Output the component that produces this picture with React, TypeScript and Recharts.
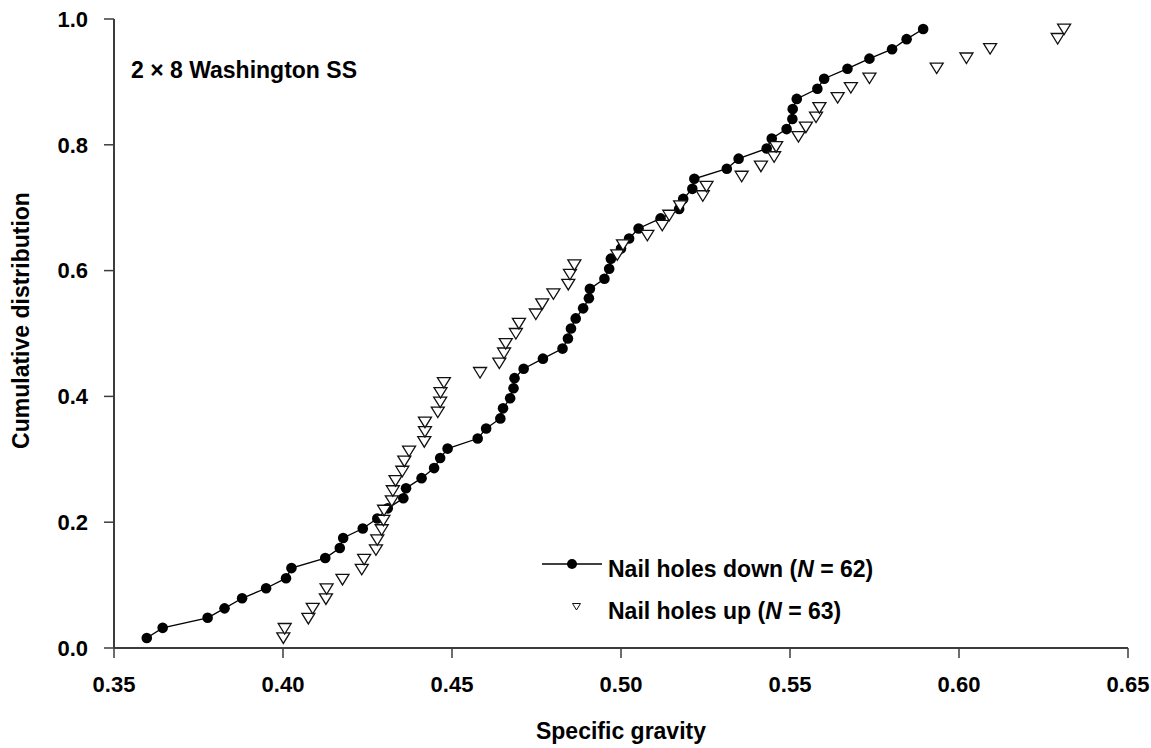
import { ScatterChart, Scatter, XAxis, YAxis, Label } from 'recharts';

// Nail holes down (N = 62): specific gravity, cumulative fraction
const downSG = [
  0.3597, 0.3644, 0.3777, 0.3827, 0.3879, 0.395, 0.4009, 0.4025, 0.4125, 0.4168,
  0.4178, 0.4236, 0.4279, 0.431, 0.4356, 0.4364, 0.441, 0.4447, 0.4465, 0.4487,
  0.4576, 0.4601, 0.4643, 0.4651, 0.4672, 0.4682, 0.4685, 0.4712, 0.4769, 0.4827,
  0.4843, 0.4852, 0.4866, 0.4888, 0.4905, 0.4908, 0.4951, 0.4965, 0.497, 0.5,
  0.5024, 0.5052, 0.5117, 0.5172, 0.5184, 0.5211, 0.5217, 0.5313, 0.5348, 0.5431,
  0.5446, 0.549, 0.5507, 0.5508, 0.552, 0.5581, 0.5601, 0.567, 0.5735, 0.5802,
  0.5845, 0.5894,
];
const downCum = [
  0.016, 0.032, 0.048, 0.063, 0.079, 0.095, 0.111, 0.127, 0.143, 0.159,
  0.175, 0.19, 0.206, 0.222, 0.238, 0.254, 0.27, 0.286, 0.302, 0.317,
  0.333, 0.349, 0.365, 0.381, 0.397, 0.413, 0.429, 0.444, 0.46, 0.476,
  0.492, 0.508, 0.524, 0.54, 0.556, 0.571, 0.587, 0.603, 0.619, 0.635,
  0.651, 0.667, 0.683, 0.698, 0.714, 0.73, 0.746, 0.762, 0.778, 0.794,
  0.81, 0.825, 0.841, 0.857, 0.873, 0.889, 0.905, 0.921, 0.937, 0.952,
  0.968, 0.984,
];

// Nail holes up (N = 63)
const upSG = [
  0.4001, 0.4005, 0.4075, 0.4088, 0.4127, 0.4129, 0.4176, 0.4233, 0.424, 0.4275,
  0.4279, 0.4292, 0.4297, 0.4299, 0.4322, 0.4325, 0.4333, 0.4353, 0.4359, 0.4373,
  0.4418, 0.442, 0.442, 0.4458, 0.4465, 0.4466, 0.4476, 0.4583, 0.464, 0.4654,
  0.4659, 0.4689, 0.4698, 0.4748, 0.4767, 0.48, 0.4844, 0.4849, 0.4862, 0.4989,
  0.5006, 0.5078, 0.5122, 0.5143, 0.5175, 0.5242, 0.5253, 0.5357, 0.5414, 0.5453,
  0.5459, 0.5525, 0.5547, 0.5577, 0.5587, 0.5641, 0.568, 0.5735, 0.5934, 0.6022,
  0.6092, 0.6292, 0.6311,
];
const upCum = [
  0.016, 0.031, 0.047, 0.063, 0.078, 0.094, 0.109, 0.125, 0.141, 0.156,
  0.172, 0.188, 0.203, 0.219, 0.234, 0.25, 0.266, 0.281, 0.297, 0.313,
  0.328, 0.344, 0.359, 0.375, 0.391, 0.406, 0.422, 0.438, 0.453, 0.469,
  0.484, 0.5, 0.516, 0.531, 0.547, 0.563, 0.578, 0.594, 0.609, 0.625,
  0.641, 0.656, 0.672, 0.688, 0.703, 0.719, 0.734, 0.75, 0.766, 0.781,
  0.797, 0.813, 0.828, 0.844, 0.859, 0.875, 0.891, 0.906, 0.922, 0.938,
  0.953, 0.969, 0.984,
];

const xTicks = [0.35, 0.4, 0.45, 0.5, 0.55, 0.6, 0.65];
const yTicks = [0, 0.2, 0.4, 0.6, 0.8, 1.0];

const FONT = '"Liberation Sans", Arial, Helvetica, sans-serif';
const AXIS = '#3c3c3c';

const downData = downSG.map((x, i) => ({ x, y: downCum[i] }));
const upData = upSG.map((x, i) => ({ x, y: upCum[i] }));

const Dot = (p: any) => <circle cx={p.cx} cy={p.cy} r={5.3} fill="#000" />;

const Tri = (p: any) => {
  const { cx, cy } = p;
  return (
    <path
      d={`M${cx - 6.5},${cy - 5} L${cx + 6.5},${cy - 5} L${cx},${cy + 5.5} Z`}
      fill="#fff"
      stroke="#111"
      strokeWidth={1.3}
    />
  );
};

const YTitle = ({ viewBox }: any) => {
  const cx = viewBox.x + 20.5;
  const cy = viewBox.y + viewBox.height / 2 - 13;
  return (
    <text
      x={cx}
      y={cy}
      transform={`rotate(-90 ${cx} ${cy})`}
      textAnchor="middle"
      dominantBaseline="central"
      fontFamily={FONT}
      fontSize={23}
      fontWeight="bold"
      fill="#000"
    >
      Cumulative distribution
    </text>
  );
};

export default function App() {
  const tickStyle = { fill: '#000', fontSize: 22, fontWeight: 'bold', fontFamily: FONT };
  return (
    <div style={{ position: 'absolute', left: 0, top: 0, width: 1151, height: 748, background: '#fff' }}>
      <ScatterChart width={1151} height={748} margin={{ top: 19, right: 23, bottom: 0, left: 0 }}>
        <XAxis
          type="number"
          dataKey="x"
          domain={[0.35, 0.65]}
          ticks={xTicks}
          tickFormatter={(v: number) => v.toFixed(2)}
          height={100}
          tickSize={10}
          tickMargin={18}
          axisLine={{ stroke: AXIS, strokeWidth: 2 }}
          tickLine={{ stroke: AXIS, strokeWidth: 1.5 }}
          tick={tickStyle}
          allowDataOverflow
        >
          <Label
            value="Specific gravity"
            position="insideBottom"
            offset={9}
            style={{ fontFamily: FONT, fontSize: 23, fontWeight: 'bold', fill: '#000' }}
          />
        </XAxis>
        <YAxis
          type="number"
          dataKey="y"
          domain={[0, 1]}
          ticks={yTicks}
          tickFormatter={(v: number) => v.toFixed(1)}
          width={114}
          tickSize={10}
          tickMargin={16}
          axisLine={{ stroke: AXIS, strokeWidth: 2 }}
          tickLine={{ stroke: AXIS, strokeWidth: 1.5 }}
          tick={tickStyle}
          allowDataOverflow
        >
          <Label content={<YTitle />} />
        </YAxis>
        <Scatter
          name="Nail holes down"
          data={downData}
          line={{ stroke: '#000', strokeWidth: 1.3 }}
          shape={Dot}
          isAnimationActive={false}
        />
        <Scatter name="Nail holes up" data={upData} shape={Tri} isAnimationActive={false} />
      </ScatterChart>

      {/* title + legend */}
      <svg
        width={1151}
        height={748}
        style={{ position: 'absolute', left: 0, top: 0, pointerEvents: 'none' }}
        fontFamily={FONT}
        fontWeight="bold"
        fill="#000"
      >
        <text x={131} y={78} fontSize={23}>2 × 8 Washington SS</text>

        <line x1={542} y1={564} x2={602} y2={564} stroke="#000" strokeWidth={1.3} />
        <circle cx={572} cy={564} r={5} fill="#000" />
        <text x={608} y={576.5} fontSize={23}>
          Nail holes down (<tspan fontStyle="italic">N</tspan> = 62)
        </text>

        <path d="M572.5,603.5 L580.5,603.5 L576.5,610 Z" fill="#fff" stroke="#111" strokeWidth={1} />
        <text x={608} y={619} fontSize={23}>
          Nail holes up (<tspan fontStyle="italic">N</tspan> = 63)
        </text>
      </svg>
    </div>
  );
}
